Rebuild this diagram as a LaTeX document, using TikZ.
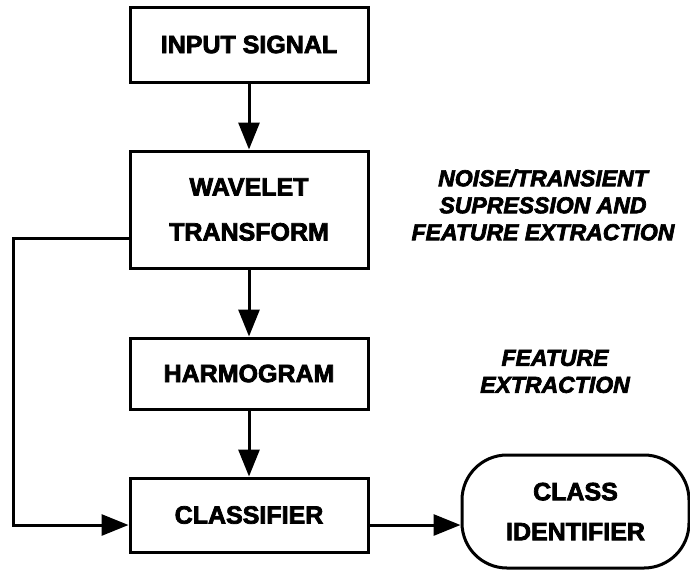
\documentclass[tikz,border=0pt]{standalone}
\usepackage{fontspec}
\setmainfont{Liberation Sans}
\newfontfamily\blockfont{Liberation Sans}[UprightFont=* Bold, ItalicFont=* Bold Italic, FakeBold=3]
\usetikzlibrary{arrows.meta}

\begin{document}
\begin{tikzpicture}[x=1pt, y=-1pt, >={Triangle[length=27pt,width=21pt]}, line width=3pt,
  block/.style={draw, minimum width=238pt, inner sep=0pt, align=center,
    font=\blockfont\fontsize{25}{45}\selectfont},
  note/.style={align=center, font=\blockfont\itshape\fontsize{23}{27}\selectfont}]
\useasboundingbox (0,0) rectangle (690,571);

\node[block, minimum height=75pt] (in) at (249,44.5) {INPUT SIGNAL};
\node[block, minimum height=117pt] (wav) at (249,209.5) {WAVELET\\TRANSFORM};
\node[block, minimum height=71pt] (harm) at (249,373.5) {HARMOGRAM};
\node[block, minimum height=74pt] (cls) at (249,515) {CLASSIFIER};
\node[block, minimum width=227pt, minimum height=113pt, rounded corners=45pt,
  font=\blockfont\fontsize{25}{40}\selectfont] (id) at (575.5,511.5) {CLASS\\IDENTIFIER};

\node[note] (n1) at (543,205) {NOISE/TRANSIENT\\SUPRESSION AND\\FEATURE EXTRACTION};
\node[note] (n2) at (555,371.5) {FEATURE\\EXTRACTION};

\coordinate (fbtop) at (13,238);
\coordinate (fbbot) at (13,525);

\draw[->] (in) -- (wav);
\draw[->] (wav) -- (harm);
\draw[->] (harm) -- (cls);
\draw[->] (wav.west |- fbtop) -- (fbtop) -- (fbbot) -- (cls.west |- fbbot);
\draw[->] (cls.east |- fbbot) -- (id.west |- fbbot);
\end{tikzpicture}
\end{document}
